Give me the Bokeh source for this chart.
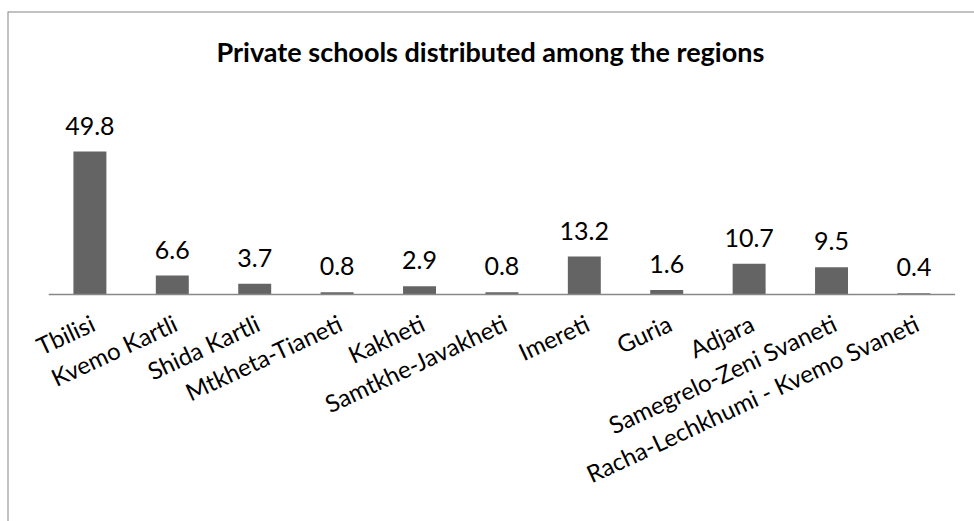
import numpy as np
from bokeh.plotting import figure
from bokeh.models import Range1d, Span, Label, ColumnDataSource
from bokeh.core.properties import value
from bokeh.embed import file_html
from bokeh.resources import INLINE

categories = ["Tbilisi", "Kvemo Kartli", "Shida Kartli", "Mtkheta-Tianeti", "Kakheti",
              "Samtkhe-Javakheti", "Imereti", "Guria", "Adjara", "Samegrelo-Zeni Svaneti",
              "Racha-Lechkhumi - Kvemo Svaneti"]
values = [49.8, 6.6, 3.7, 0.8, 2.9, 0.8, 13.2, 1.6, 10.7, 9.5, 0.4]
labels = ["49.8", "6.6", "3.7", "0.8", "2.9", "0.8", "13.2", "1.6", "10.7", "9.5", "0.4"]
title_text = "Private schools distributed among the regions"

FONT = "Lato"
idx = np.arange(len(categories))
src = ColumnDataSource(dict(x=idx, top=values, lab=labels, cat=categories, zero=[0] * len(categories)))

p = figure(width=974, height=521, output_backend="svg", toolbar_location=None,
           x_range=Range1d(-1.0, 10.735), y_range=Range1d(-79.07, 98.57),
           x_axis_location=None, y_axis_location=None,
           min_border_left=7, min_border_top=11, min_border_right=0, min_border_bottom=0)
p.grid.visible = False
p.outline_line_color = None
p.background_fill_color = "white"
p.border_fill_color = "white"

# chart border (top & left visible)
p.add_layout(Span(location=-1.0, dimension="height", line_color="#868686", line_width=2))
p.add_layout(Span(location=98.57, dimension="width", line_color="#868686", line_width=2))

p.vbar(x="x", top="top", bottom=0, width=0.40, source=src, fill_color="#646464", line_color=None)
p.segment(x0=-0.5, x1=len(categories) - 0.5, y0=0, y1=0, line_color="#888888", line_width=1.5)

p.text(x="x", y="top", text="lab", source=src, text_font=value(FONT), text_font_size="25px",
       text_align="center", text_baseline="alphabetic", y_offset=-26, text_color="#000000")

p.text(x="x", y="zero", text="cat", source=src, text_font=value(FONT), text_font_size="24px",
       text_align="right", text_baseline="alphabetic", angle=np.deg2rad(25), x_offset=3, y_offset=27,
       text_color="#000000")

p.add_layout(Label(x=4.86, y=84.6, text=title_text, text_font=FONT, text_font_size="27px",
                   text_font_style="bold", text_align="center", text_baseline="alphabetic",
                   text_color="#000000"))

open("out.html", "w").write(file_html(p, INLINE))
